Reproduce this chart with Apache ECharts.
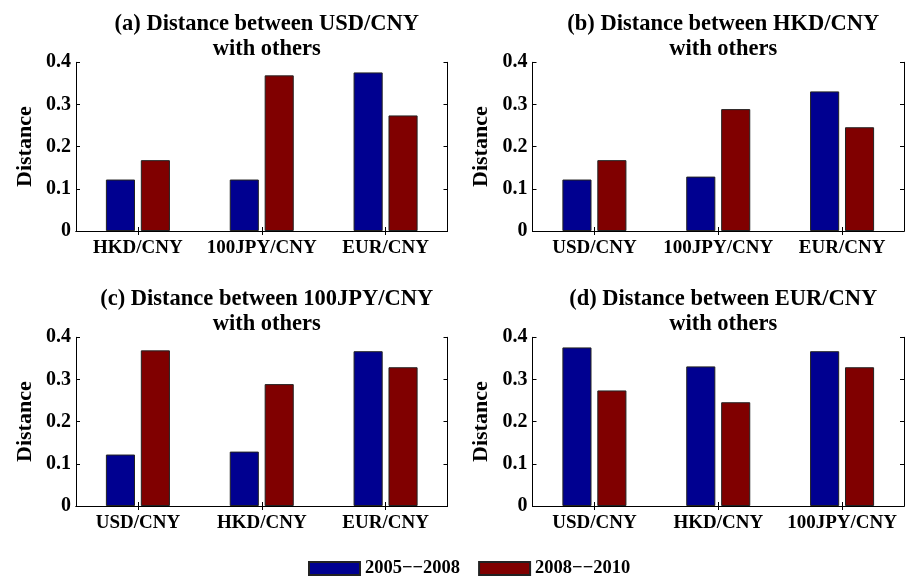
<!DOCTYPE html>
<html>
<head>
<meta charset="utf-8">
<script src="https://cdn.jsdelivr.net/npm/echarts@6/dist/echarts.min.js"></script>
<style>html,body{margin:0;padding:0;background:#fff;}#c{width:907px;height:576px;}</style>
</head>
<body>
<div id="c"></div>
<script>
// ---- data ----
var seriesNames = ['2005\u2212\u22122008', '2008\u2212\u22122010'];
var titles = [
  '(a) Distance between USD/CNY\nwith others',
  '(b) Distance between HKD/CNY\nwith others',
  '(c) Distance between 100JPY/CNY\nwith others',
  '(d) Distance between EUR/CNY\nwith others'
];
var catsA = ['HKD/CNY', '100JPY/CNY', 'EUR/CNY'];
var catsB = ['USD/CNY', '100JPY/CNY', 'EUR/CNY'];
var catsC = ['USD/CNY', 'HKD/CNY', 'EUR/CNY'];
var catsD = ['USD/CNY', 'HKD/CNY', '100JPY/CNY'];
var a2005 = [0.122, 0.122, 0.376];
var a2008 = [0.168, 0.369, 0.274];
var b2005 = [0.122, 0.129, 0.331];
var b2008 = [0.168, 0.289, 0.246];
var c2005 = [0.122, 0.129, 0.367];
var c2008 = [0.369, 0.289, 0.329];
var d2005 = [0.376, 0.331, 0.367];
var d2008 = [0.274, 0.246, 0.329];
var yTicks = [0, 0.1, 0.2, 0.3, 0.4];

var panels = [
  {cats: catsA, s1: a2005, s2: a2008},
  {cats: catsB, s1: b2005, s2: b2008},
  {cats: catsC, s1: c2005, s2: c2008},
  {cats: catsD, s1: d2005, s2: d2008}
];
var FONT = '"Liberation Serif", "Times New Roman", serif';
var lefts = [76, 532.5];
var tops = [62.3, 337.3];
var W = 371.5, H = 168.7;
var colors = ['#000090', '#800000'];

var grids = [], xAxes = [], yAxes = [], series = [], titleArr = [];
panels.forEach(function (p, i) {
  var L = lefts[i % 2], T = tops[Math.floor(i / 2)];
  grids.push({left: L, top: T, width: W, height: H, containLabel: false});
  titleArr.push({
    text: titles[i], left: L + W / 2, top: T - 56, textAlign: 'center',
    textStyle: {fontFamily: FONT, fontWeight: 'bold', fontSize: 22.5, lineHeight: 25, color: '#000'}
  });
  xAxes.push({
    type: 'category', gridIndex: i, data: p.cats, position: 'bottom',
    axisLine: {show: true, lineStyle: {color: '#000', width: 1}},
    axisTick: {show: true, inside: true, alignWithLabel: true, length: 4, lineStyle: {color: '#000'}},
    axisLabel: {interval: 0, fontFamily: FONT, fontWeight: 'bold', fontSize: 19, color: '#000', margin: 8},
    splitLine: {show: false}
  });
  xAxes.push({
    type: 'category', gridIndex: i, data: p.cats, position: 'top',
    axisLine: {show: true, lineStyle: {color: '#000', width: 1}},
    axisTick: {show: true, inside: true, alignWithLabel: true, length: 4, lineStyle: {color: '#000'}},
    axisLabel: {show: false}, splitLine: {show: false}
  });
  yAxes.push({
    type: 'value', gridIndex: i, min: 0, max: 0.4, interval: 0.1, position: 'left',
    name: 'Distance', nameLocation: 'middle', nameGap: 40,
    nameTextStyle: {fontFamily: FONT, fontWeight: 'bold', fontSize: 22, color: '#000'},
    axisLine: {show: true, lineStyle: {color: '#000', width: 1}},
    axisTick: {show: true, inside: true, length: 4, lineStyle: {color: '#000'}},
    axisLabel: {fontFamily: FONT, fontWeight: 'bold', fontSize: 20, color: '#000', margin: 5,
      formatter: function (v) { return yTicks.indexOf(Math.round(v * 10) / 10) >= 0 ? String(Math.round(v * 10) / 10) : ''; }},
    splitLine: {show: false}
  });
  yAxes.push({
    type: 'value', gridIndex: i, min: 0, max: 0.4, interval: 0.1, position: 'right',
    axisLine: {show: true, lineStyle: {color: '#000', width: 1}},
    axisTick: {show: true, inside: true, length: 4, lineStyle: {color: '#000'}},
    axisLabel: {show: false}, splitLine: {show: false}
  });
  [p.s1, p.s2].forEach(function (arr, k) {
    series.push({
      type: 'bar', name: seriesNames[k], xAxisIndex: i * 2, yAxisIndex: i * 2,
      data: arr, barWidth: '23.5%', barGap: '20%',
      itemStyle: {color: colors[k], borderColor: '#222', borderWidth: 1},
      emphasis: {disabled: true}
    });
  });
});

var chart = echarts.init(document.getElementById('c'), null, {renderer: 'canvas'});
chart.setOption({
  animation: false,
  backgroundColor: '#fff',
  title: titleArr,
  grid: grids,
  xAxis: xAxes,
  yAxis: yAxes,
  legend: {
    data: seriesNames, left: 303, top: 554, itemWidth: 51, itemHeight: 13, itemGap: 18,
    icon: 'rect',
    textStyle: {fontFamily: FONT, fontWeight: 'bold', fontSize: 18.5, color: '#000'}
  },
  series: series
});
</script>
</body>
</html>
